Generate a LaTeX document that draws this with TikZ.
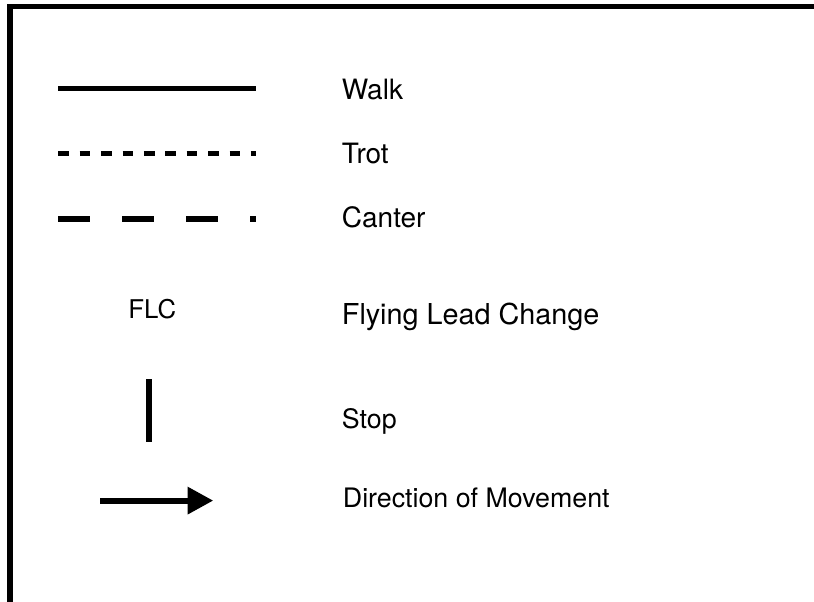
\documentclass[tikz,border=0pt]{standalone}
\usepackage{fontspec}
\setmainfont{TeX Gyre Heros}
\usetikzlibrary{arrows.meta}
\begin{document}
\begin{tikzpicture}[x=1pt,y=1pt,
  frame/.style={line width=5.3pt, line join=miter},
  legline/.style={line width=5.3pt, line cap=butt},
  trotline/.style={legline, dash pattern=on 10.7pt off 10.7pt},
  canterline/.style={legline, dash pattern=on 32pt off 32pt},
  label/.style={anchor=base west, inner sep=0pt, font=\fontsize{28}{32}\selectfont},
  smalllabel/.style={anchor=base west, inner sep=0pt, font=\fontsize{26.8}{30}\selectfont},
  symlabel/.style={anchor=base, inner sep=0pt, font=\fontsize{25.8}{30}\selectfont}]
\useasboundingbox (0,0) rectangle (814,-602);
% frame (only top and left visible)
\coordinate (fbl) at (10,-640);
\coordinate (ftl) at (10,-6.7);
\coordinate (ftr) at (850,-6.7);
\draw[frame] (fbl) -- (ftl) -- (ftr);
% walk
\coordinate (w1) at (58.3,-88.7);
\coordinate (w2) at (256,-88.7);
\draw[legline] (w1) -- (w2);
\node[label] (walk) at (341.7,-99.3) {Walk};
% trot
\coordinate (t1) at (58.3,-153.6);
\coordinate (t2) at (256,-153.6);
\draw[trotline] (t1) -- (t2);
\node[label] (trot) at (341.7,-163.3) {Trot};
% canter
\coordinate (c1) at (58.3,-218.9);
\coordinate (c2) at (256,-218.9);
\draw[canterline] (c1) -- (c2);
\node[label] (canter) at (341.7,-227.3) {Canter};
% flying lead change
\node[symlabel] (flc) at (152.3,-318.3) {FLC};
\node[label, font=\fontsize{28.8}{32}\selectfont] (flying) at (341.7,-324.3) {Flying Lead Change};
% stop
\coordinate (s1) at (148.7,-379.3);
\coordinate (s2) at (148.7,-442.3);
\draw[line width=5.6pt] (s1) -- (s2);
\node[smalllabel] (stop) at (341.7,-428) {Stop};
% direction
\coordinate (d1) at (100,-500.6);
\coordinate (d2) at (213.3,-500.6);
\draw[line width=6pt, -{Triangle[length=25.6pt,width=26pt]}] (d1) -- (d2);
\node[smalllabel] (dir) at (342.7,-507.7) {Direction of Movement};
\end{tikzpicture}
\end{document}
